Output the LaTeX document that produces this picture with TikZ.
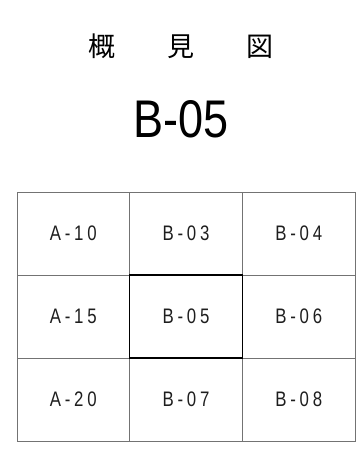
\documentclass[tikz,border=0pt]{standalone}
\usepackage{fontspec}
\setmainfont{Liberation Sans}
\newfontfamily\jpfont{Noto Sans CJK JP}
\newfontfamily\cellfont[FakeStretch=0.8,LetterSpace=18]{Liberation Sans}
\newfontfamily\sheetfont[FakeStretch=0.85]{Liberation Sans}
\usetikzlibrary{positioning}
\definecolor{gridline}{RGB}{115,115,115}
\definecolor{inktext}{RGB}{30,30,30}
\tikzset{
  cell/.style={rectangle, draw=gridline, line width=0.8pt, outer sep=0pt,
               inner sep=0pt, minimum width=112.7pt, minimum height=83pt,
               text=inktext, font=\cellfont\fontsize{21}{21}\selectfont},
  cellfocus/.style={cell, draw=black, line width=1.4pt},
  heading/.style={inner sep=0pt, font=\jpfont\fontsize{27}{27}\selectfont},
  sheetno/.style={inner sep=0pt, font=\sheetfont\fontsize{53}{53}\selectfont},
}
\begin{document}
\begin{tikzpicture}[x=1pt, y=1pt, node distance=0pt]
  \useasboundingbox (0,0) rectangle (361,-465);
  % ---- title ----
  \node[heading] (title) at (181,-46) {概\hspace{52pt}見\hspace{52pt}図};
  \node[sheetno] (sheet) at (181,-119) {B-05};

  % ---- key plan ----
  \coordinate (mid) at (186,-316.5);
  \node[cell, above left=0pt and 0pt of mid, xshift=-56.35pt, yshift=41.5pt] (a10) {A-10};
  \node[cell, right=of a10] (b03) {B-03};
  \node[cell, right=of b03] (b04) {B-04};
  \node[cell, below=of a10] (a15) {A-15};
  \node[cell, below=of b04] (b06) {B-06};
  \node[cell, below=of a15] (a20) {A-20};
  \node[cell, right=of a20] (b07) {B-07};
  \node[cell, right=of b07] (b08) {B-08};
  \node[cellfocus, below=of b03] (b05) {B-05};
\end{tikzpicture}
\end{document}
